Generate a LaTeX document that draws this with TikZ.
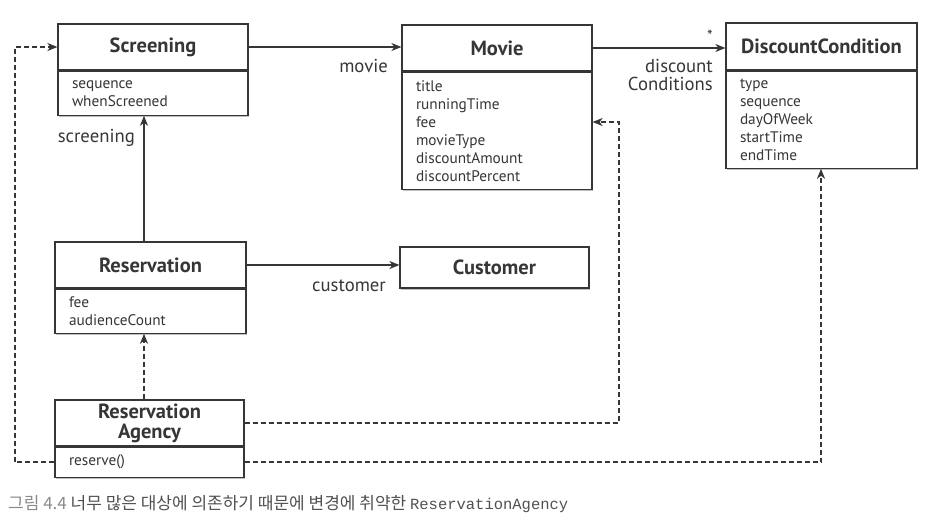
\documentclass[tikz,border=0pt]{standalone}
\usepackage{fontspec}
\setmainfont{PT Sans}
\newfontfamily\krfont{Noto Sans CJK KR}
\setmonofont{Liberation Mono}
\usetikzlibrary{arrows.meta,shadows,calc}
\definecolor{ink}{HTML}{363636}
\definecolor{capgray}{HTML}{8A8A8A}
\definecolor{captext}{HTML}{505050}
\begin{document}
\begin{tikzpicture}[x=1pt,y=-1pt,
  every node/.style={text=ink},
  shad/.style={drop shadow={shadow xshift=0.8pt, shadow yshift=-1.8pt, opacity=0.25, fill=black}},
  ttl/.style={draw=ink, line width=1.2pt, fill=white, rectangle, inner sep=0pt,
    font=\fontsize{20.5}{20}\selectfont\bfseries, align=center, shad},
  attr/.style={draw=ink, line width=1.2pt, fill=white, rectangle, inner xsep=14pt, inner ysep=0pt,
    font=\fontsize{15.3}{18}\selectfont, align=left, anchor=north, shad},
  lbl/.style={font=\fontsize{18.7}{18}\selectfont, inner sep=0pt},
  assoc/.style={draw=ink, line width=1.4pt, -{Stealth[length=10pt, width=8pt, inset=3pt]}},
  dep/.style={draw=ink, line width=1.6pt, dash pattern=on 5pt off 3pt, -{Stealth[length=10pt, width=8pt, inset=3pt]}}
]
\useasboundingbox (0,0) rectangle (929,520);

% Screening
\node[ttl, minimum width=190pt, minimum height=46pt] (scr) at (153,47) {Screening};
\node[attr, text width=162pt, minimum height=44pt] (scra) at (scr.south) {sequence\\whenScreened};
% Movie
\node[ttl, minimum width=190pt, minimum height=46pt] (mov) at (497,48) {Movie};
\node[attr, text width=162pt, minimum height=117pt] (mova) at (mov.south) {title\\runningTime\\fee\\movieType\\discountAmount\\discountPercent};
% DiscountCondition
\node[ttl, minimum width=191pt, minimum height=47pt] (dc) at (821.5,46.5) {DiscountCondition};
\node[attr, text width=163pt, minimum height=97pt] (dca) at (dc.south) {type\\sequence\\dayOfWeek\\startTime\\endTime};
% Reservation
\node[ttl, minimum width=191pt, minimum height=46pt] (res) at (150.5,265) {Reservation};
\node[attr, text width=163pt, minimum height=44pt] (resa) at (res.south) {fee\\audienceCount};
% Customer
\node[ttl, minimum width=189pt, minimum height=41pt] (cust) at (494.5,267.5) {Customer};
% ReservationAgency
\node[ttl, minimum width=189pt, minimum height=46pt] (ra) at (149.5,423) {Reservation\\Agency};
\node[attr, text width=161pt, minimum height=30pt] (raa) at (ra.south) {reserve()};

% helper coordinates
\coordinate (vx) at (144,0);
\coordinate (lx) at (15,0);
\coordinate (mx) at (619,122);
\coordinate (dx) at (821,0);

% associations
\draw[assoc] (scr.east) -- (scr.east -| mov.west);
\node[lbl, anchor=base east] (lmovie) at (388,72) {movie};
\draw[assoc] (mov.east) -- (mov.east -| dc.west);
\node[font=\fontsize{16}{16}\selectfont, inner sep=0pt] (lstar) at (710,36) {*};
\node[lbl, anchor=north east, align=right] (ldisc) at (713,59) {discount\\Conditions};
\draw[assoc] (res.north -| vx) -- (scra.south -| vx);
\node[lbl, anchor=base east] (lscr) at (135,142) {screening};
\draw[assoc] (res.east) -- (res.east -| cust.west);
\node[lbl, anchor=base east] (lcust) at (386,291) {customer};

% dependencies
\draw[dep] (ra.north -| vx) -- (resa.south -| vx);
\draw[dep] (raa.west) -- (raa.west -| lx) -- (scr.west -| lx) -- (scr.west);
\draw[dep] (ra.east) -- (ra.east -| mx) -- (mx) -- (mx -| mova.east);
\draw[dep] (raa.east) -- (raa.east -| dx) -- (dca.south -| dx);

% caption
\node[anchor=base west, inner sep=0pt, font=\fontsize{17}{20}\selectfont] (cap) at (8,509)
  {\krfont\textcolor{capgray}{그림 4.4} \textcolor{captext}{너무 많은 대상에 의존하기 때문에 변경에 취약한 {\ttfamily\fontsize{15.5}{20}\selectfont ReservationAgency}}};
\end{tikzpicture}
\end{document}
